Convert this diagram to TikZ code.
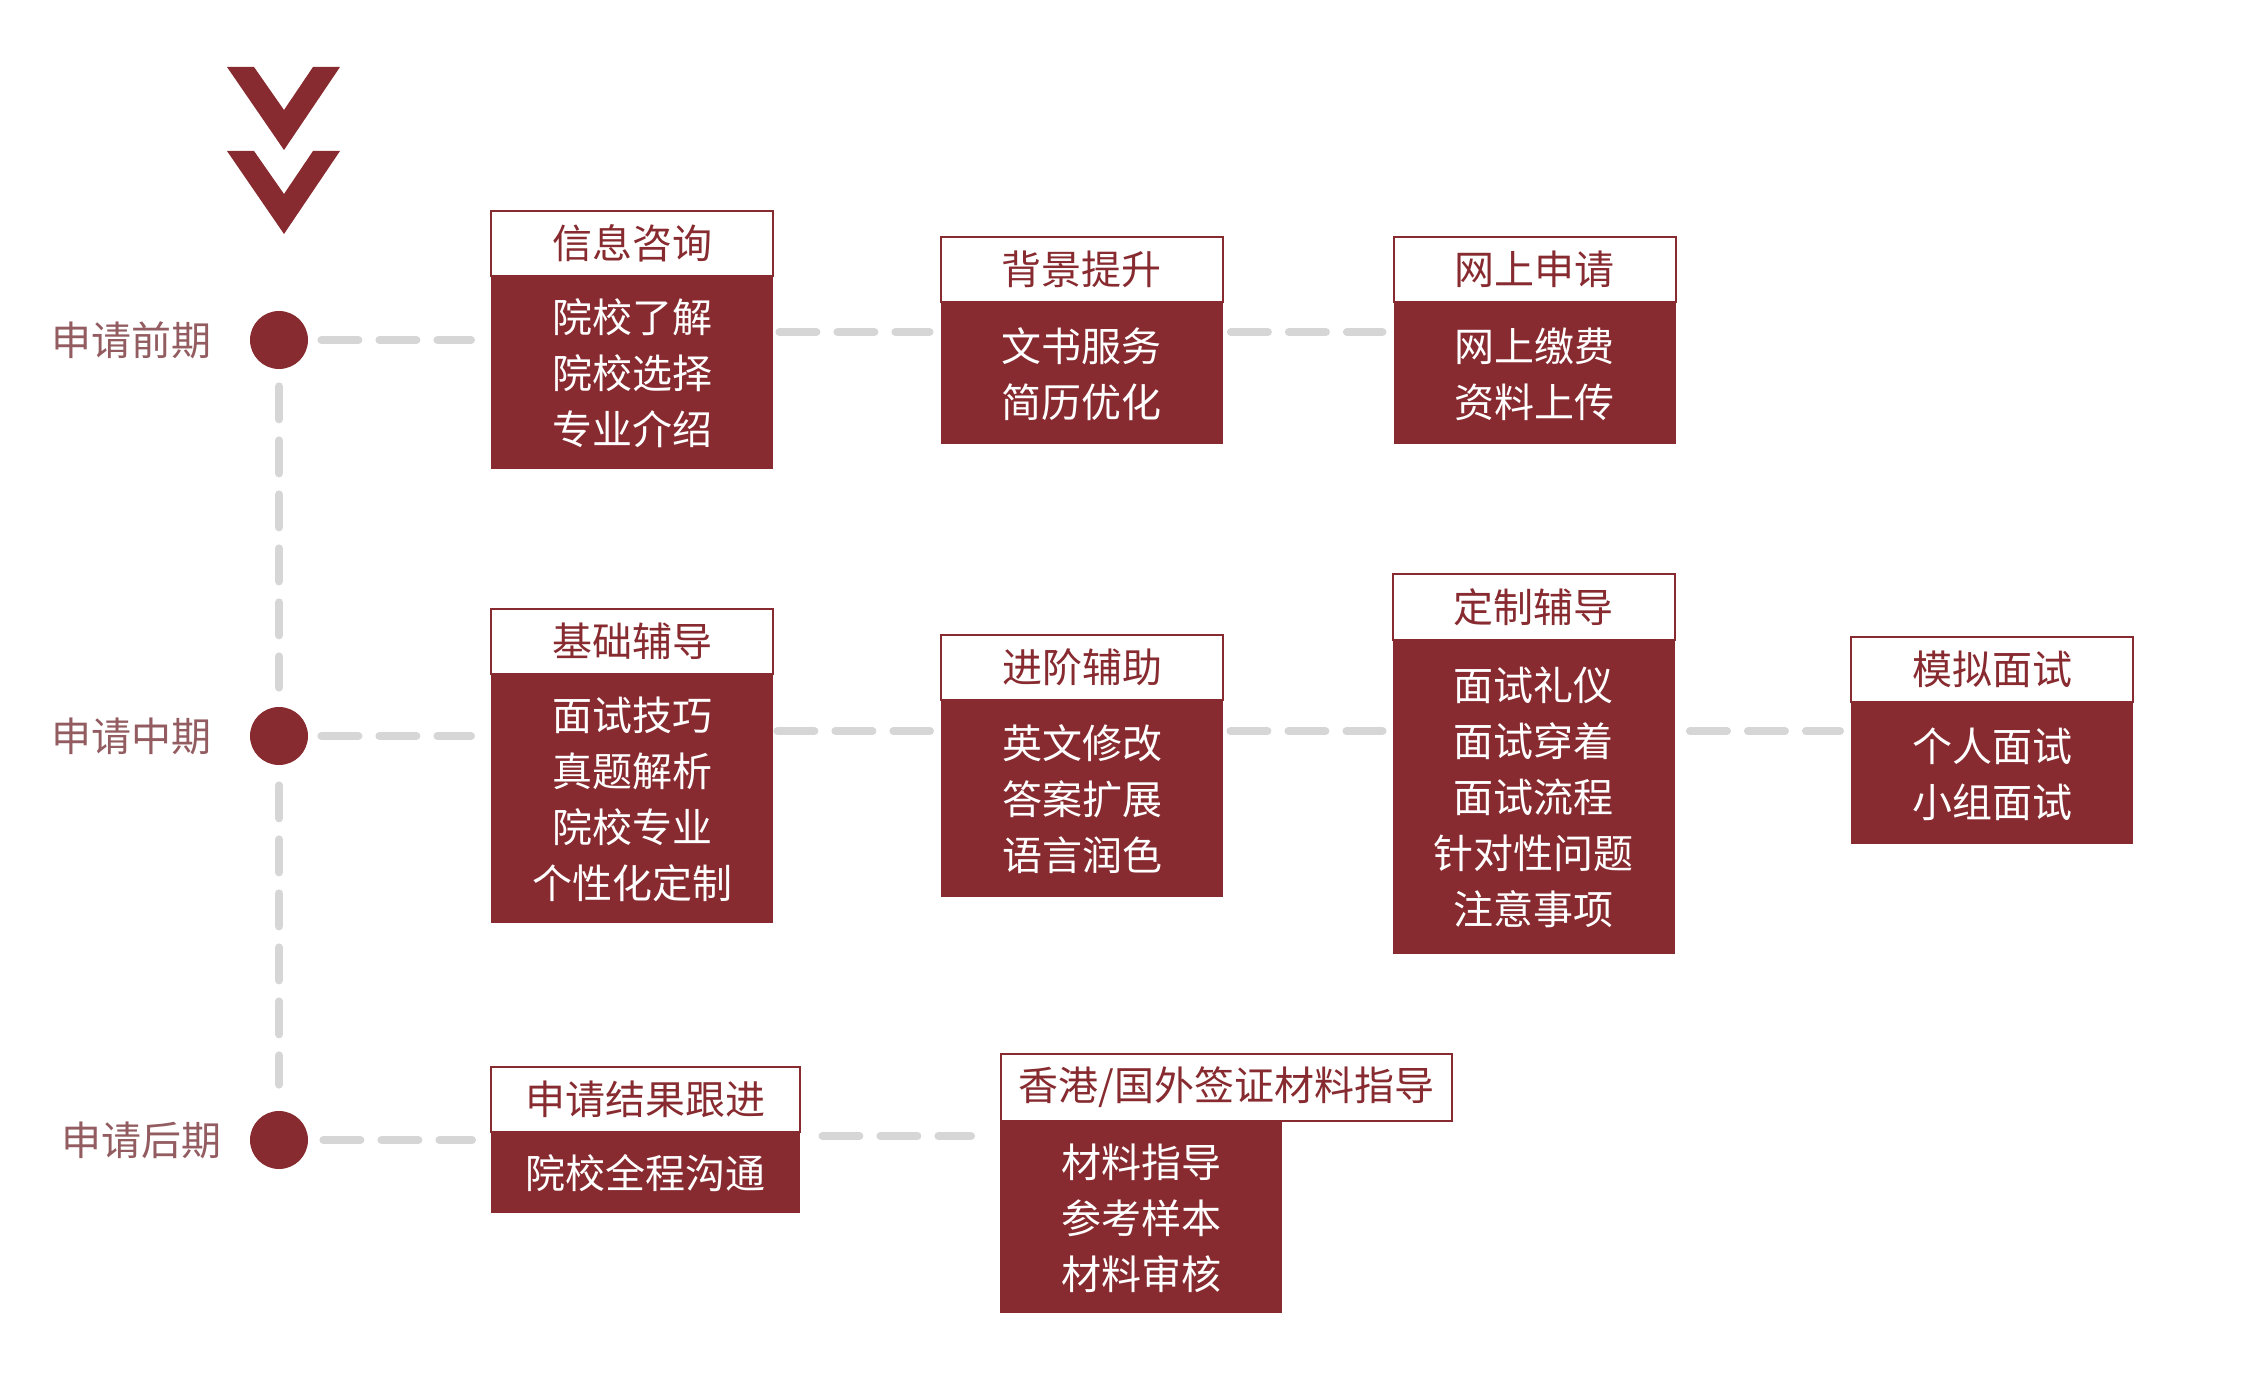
\documentclass[tikz,border=0pt]{standalone}
\usepackage{fontspec}
\setmainfont{Noto Sans CJK SC}
\usetikzlibrary{positioning}
\definecolor{deepred}{RGB}{135,43,48}
\definecolor{phasetext}{RGB}{146,92,96}
\definecolor{dashgray}{RGB}{214,214,214}
\tikzset{
  head/.style={draw=deepred, line width=1pt, fill=white, text=deepred, minimum width=141pt, minimum height=32.5pt, inner sep=0pt},
  body/.style={fill=deepred, text=white, minimum width=141pt, inner sep=0pt, align=center},
  dot/.style={circle, fill=deepred, minimum size=29pt, inner sep=0pt},
  phase/.style={text=phasetext, inner sep=0pt},
  linkline/.style={dashgray, line width=4pt, line cap=round, dash pattern=on 18.5pt off 10.5pt},
  timeline/.style={dashgray, line width=4pt, line cap=round, dash pattern=on 16.5pt off 10.5pt}
}
\begin{document}
\begin{tikzpicture}[x=0.5pt,y=-0.5pt,font=\fontsize{20pt}{28pt}\selectfont]
\useasboundingbox (0,0) rectangle (2246,1384);

% chevrons
\foreach \dy in {0,84} {
  \fill[deepred] (227,67+\dy) -- (254,67+\dy) -- (284,110+\dy) -- (313,67+\dy) -- (340,67+\dy) -- (284,150+\dy) -- cycle;
}

% phases
\node[dot] (d1) at (279,340) {};
\node[dot] (d2) at (279,736) {};
\node[dot] (d3) at (279,1140) {};
\node[phase, left=19pt of d1] (p1) {申请前期};
\node[phase, left=19pt of d2] (p2) {申请中期};
\node[phase, left=14pt of d3] (p3) {申请后期};

\coordinate (r1) at (0,332);
\coordinate (r2) at (0,731);
\coordinate (r3) at (0,1136);

% row 1
\node[head] (h1) at (632,243.5) {信息咨询};
\node[body, minimum height=96pt, below=0pt of h1] (b1) {院校了解\\院校选择\\专业介绍};
\node[head] (h2) at (1081.5,269.5) {背景提升};
\node[body, minimum height=70.5pt, below=0pt of h2] (b2) {文书服务\\简历优化};
\node[head] (h3) at (1534.5,269.5) {网上申请};
\node[body, minimum height=70.5pt, below=0pt of h3] (b3) {网上缴费\\资料上传};

% row 2
\node[head] (h4) at (632,641) {基础辅导};
\node[body, minimum height=124pt, below=0pt of h4] (b4) {面试技巧\\真题解析\\院校专业\\个性化定制};
\node[head] (h5) at (1082,667) {进阶辅助};
\node[body, minimum height=98pt, below=0pt of h5] (b5) {英文修改\\答案扩展\\语言润色};
\node[head] (h6) at (1533.5,607) {定制辅导};
\node[body, minimum height=156.5pt, below=0pt of h6] (b6) {面试礼仪\\面试穿着\\面试流程\\针对性问题\\注意事项};
\node[head] (h7) at (1992,669.5) {模拟面试};
\node[body, minimum height=70.5pt, below=0pt of h7] (b7) {个人面试\\小组面试};

% row 3
\node[head, minimum width=154.5pt] (h8) at (645.5,1099.5) {申请结果跟进};
\node[body, minimum width=154.5pt, minimum height=40pt, below=0pt of h8] (b8) {院校全程沟通};
\node[head, minimum width=225.5pt, minimum height=33.5pt] (h9) at (1226.5,1087.5) {香港/国外签证材料指导};
\node[body, minimum height=95.5pt, anchor=north west] (b9) at (h9.south west) {材料指导\\参考样本\\材料审核};

% timeline
\draw[timeline, shorten <=8.5pt, shorten >=9.5pt] (d1) -- (d2);
\draw[timeline, shorten <=10pt, shorten >=13pt] (d2) -- (d3);

% links
\draw[linkline, shorten <=6.5pt, shorten >=9.5pt] (d1) -- (h1.west |- d1);
\draw[linkline, shorten <=3pt, shorten >=5pt] (b1.east |- r1) -- (h2.west |- r1);
\draw[linkline, shorten <=4pt, shorten >=5pt] (b2.east |- r1) -- (h3.west |- r1);
\draw[linkline, shorten <=6.5pt, shorten >=9.5pt] (d2) -- (h4.west |- d2);
\draw[linkline, shorten <=2pt, shorten >=5pt] (b4.east |- r2) -- (h5.west |- r2);
\draw[linkline, shorten <=3.5pt, shorten >=4.5pt] (b5.east |- r2) -- (h6.west |- r2);
\draw[linkline, shorten <=7.5pt, shorten >=5pt] (b6.east |- r2) -- (h7.west |- r2);
\draw[linkline, shorten <=7.5pt, shorten >=9pt] (d3) -- (h8.west |- d3);
\draw[linkline, shorten <=11pt, shorten >=14.5pt] (b8.east |- r3) -- (h9.west |- r3);
\end{tikzpicture}
\end{document}
